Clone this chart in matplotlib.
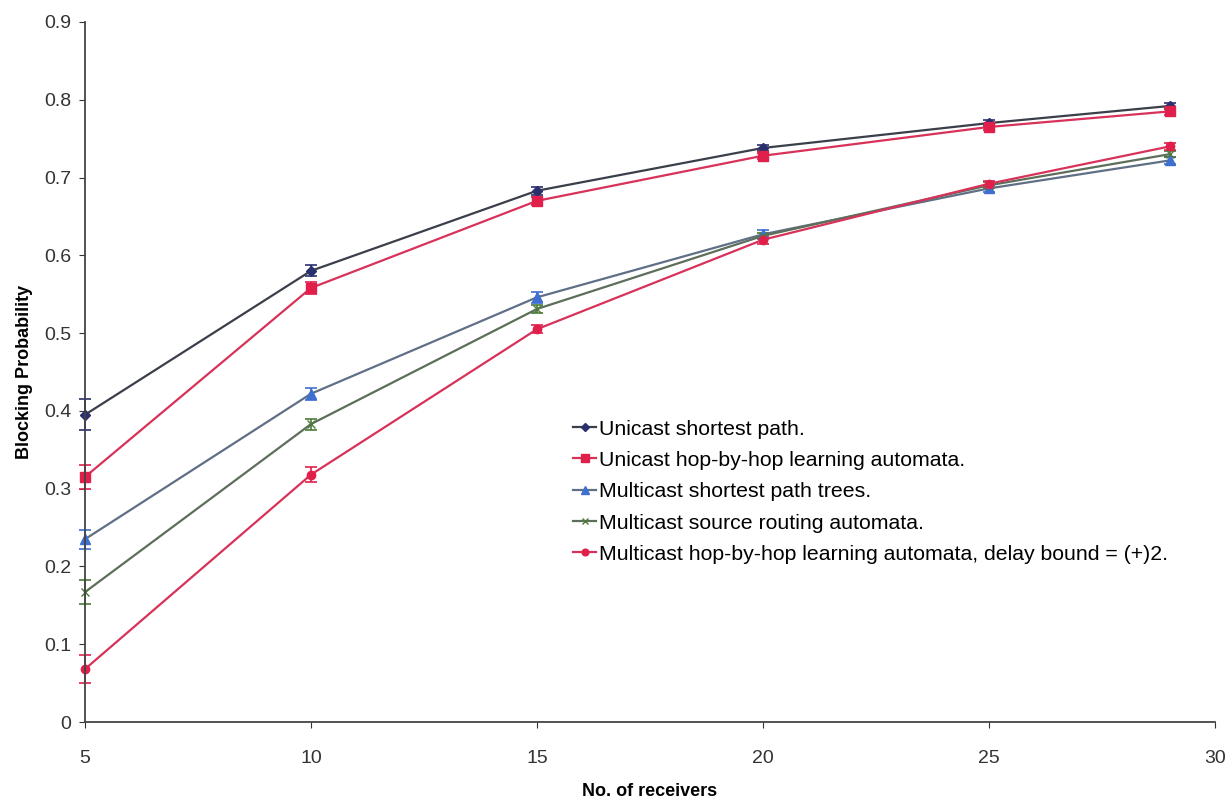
import matplotlib
matplotlib.use("Agg")
import matplotlib.pyplot as plt
from matplotlib.lines import Line2D

plt.rcParams['font.family'] = ['Liberation Sans', 'DejaVu Sans']

receivers = [5, 10, 15, 20, 25, 29]
labels = [
    "Unicast shortest path.",
    "Unicast hop-by-hop learning automata.",
    "Multicast shortest path trees.",
    "Multicast source routing automata.",
    "Multicast hop-by-hop learning automata, delay bound = (+)2.",
]
unicast_sp = [0.395, 0.580, 0.683, 0.738, 0.770, 0.792]
unicast_hbh = [0.315, 0.558, 0.670, 0.728, 0.765, 0.785]
multicast_spt = [0.235, 0.422, 0.546, 0.627, 0.686, 0.722]
multicast_sr = [0.167, 0.383, 0.531, 0.625, 0.690, 0.730]
multicast_hbh = [0.068, 0.318, 0.505, 0.620, 0.692, 0.740]

err_unicast_sp = [0.020, 0.007, 0.005, 0.004, 0.004, 0.004]
err_unicast_hbh = [0.015, 0.008, 0.005, 0.004, 0.004, 0.004]
err_multicast_spt = [0.012, 0.008, 0.007, 0.005, 0.004, 0.004]
err_multicast_sr = [0.015, 0.007, 0.005, 0.004, 0.004, 0.004]
err_multicast_hbh = [0.018, 0.010, 0.005, 0.005, 0.004, 0.004]

series = [
    (unicast_sp, err_unicast_sp, "#3a3f4a", "#2a2f6e", "D", 5),
    (unicast_hbh, err_unicast_hbh, "#d8325a", "#e0204a", "s", 7),
    (multicast_spt, err_multicast_spt, "#5f6f86", "#3f6fd0", "^", 7),
    (multicast_sr, err_multicast_sr, "#5d6e5a", "#4d7a3a", "x", 6),
    (multicast_hbh, err_multicast_hbh, "#d8325a", "#e0204a", "o", 6),
]

fig = plt.figure(figsize=(12.31, 8.01), dpi=100)
ax = fig.add_axes([0.069, 0.0986, 0.918, 0.874])

handles = []
for (vals, errs, lc, mc, mk, ms), lab in zip(series, labels):
    cont = ax.errorbar(receivers, vals, yerr=errs, color=lc, ecolor=mc, elinewidth=1.2,
                       capsize=4, capthick=1.2, marker=mk, markersize=ms,
                       markerfacecolor=mc, markeredgecolor=mc, linewidth=1.6)
    cont.lines[0].set_clip_on(False)
    for art in cont.lines[1]:
        art.set_clip_on(False)
    for art in cont.lines[2]:
        art.set_clip_on(False)
    handles.append(Line2D([], [], color=lc, marker=mk, markersize=ms * 0.8,
                          markerfacecolor=mc, markeredgecolor=mc, linewidth=1.6,
                          label=lab))

ax.set_xlim(5, 30)
ax.set_ylim(0, 0.9)
ax.set_xticks([5, 10, 15, 20, 25, 30])
ax.set_yticks([0, 0.1, 0.2, 0.3, 0.4, 0.5, 0.6, 0.7, 0.8, 0.9])
ax.set_yticklabels(["0", "0.1", "0.2", "0.3", "0.4", "0.5", "0.6", "0.7", "0.8", "0.9"])
ax.tick_params(axis='both', labelsize=14, direction='out', length=4, colors='#333333')
ax.tick_params(axis='x', pad=16)
ax.tick_params(axis='y', pad=6)
for s in ['top', 'right']:
    ax.spines[s].set_visible(False)
for s in ['left', 'bottom']:
    ax.spines[s].set_color('#444444')
    ax.spines[s].set_linewidth(1.3)

ax.set_xlabel("No. of receivers", fontsize=13, fontweight='bold', labelpad=12)
ax.set_ylabel("Blocking Probability", fontsize=13, fontweight='bold', labelpad=8)

leg = ax.legend(handles=handles, loc='upper left', bbox_to_anchor=(0.432, 0.432),
                frameon=False, fontsize=15.3, handlelength=1.1, handletextpad=0.1,
                labelspacing=0.58, borderaxespad=0, borderpad=0)

fig.savefig("out.png", dpi=100)
